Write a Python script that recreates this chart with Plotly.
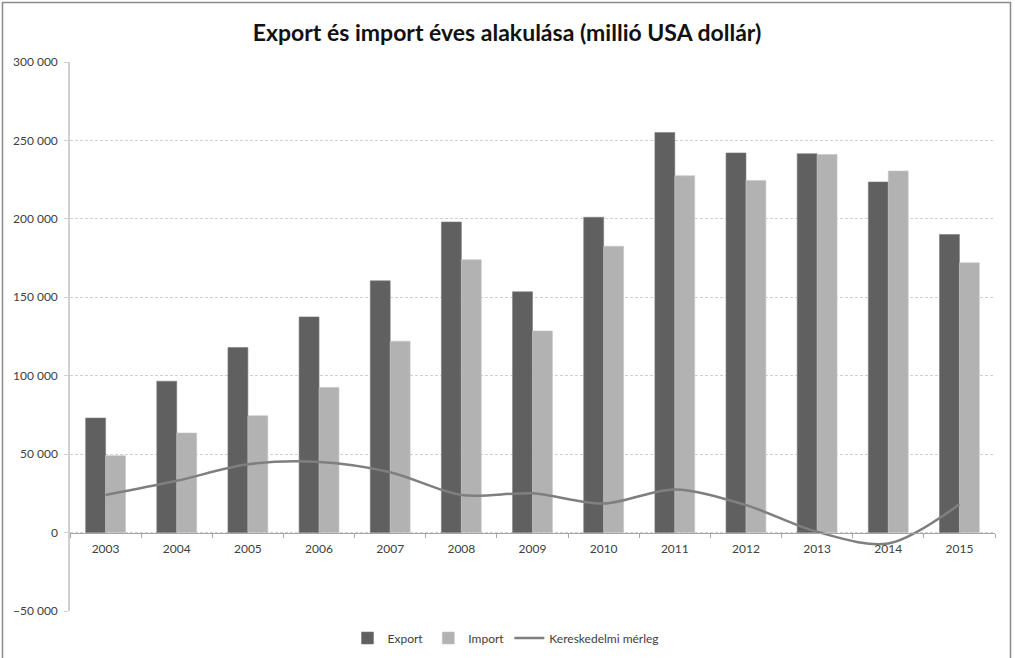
import plotly.graph_objects as go

years = ["2003", "2004", "2005", "2006", "2007", "2008", "2009", "2010", "2011", "2012", "2013", "2014", "2015"]
export_vals = [73000, 96500, 118000, 137500, 160500, 198000, 153500, 201000, 255000, 242000, 241500, 223500, 190000]
import_vals = [49000, 63500, 74500, 92500, 122000, 174000, 128500, 182500, 227500, 224500, 241000, 230500, 172000]
balance_vals = [24000, 33000, 43500, 45000, 38500, 24000, 25000, 18500, 27500, 17500, 500, -7000, 18000]

W, H = 1015, 658
ml, mr, mt, mb = 70, 20, 62, 47
pw = W - ml - mr
ph = H - mt - mb
ymin, ymax = -50000, 300000

font_fam = "Lato, 'Open Sans', sans-serif"

fig = go.Figure()
fig.add_trace(go.Bar(x=years, y=export_vals, name="Export",
                     marker=dict(color="#606060", line=dict(color="#7a7a7a", width=0.6))))
fig.add_trace(go.Bar(x=years, y=import_vals, name="Import",
                     marker=dict(color="#b2b2b2", line=dict(color="#c4c4c4", width=0.6))))
fig.add_trace(go.Scatter(x=years, y=balance_vals, name="Kereskedelmi mérleg", mode="lines",
                         line=dict(color="#7f7f7f", width=2.5, shape="spline", smoothing=0.9)))

def px_x(p):
    return (p - ml) / pw

def px_y(p):
    return (H - mb - p) / ph

fig.update_layout(
    width=W, height=H,
    margin=dict(l=ml, r=mr, t=mt, b=mb, autoexpand=False),
    paper_bgcolor="white", plot_bgcolor="white",
    barmode="group", bargap=0.44, bargroupgap=0.0,
    title=dict(text="Export és import éves alakulása (millió USA dollár)",
               x=px_x(507), xanchor="center", xref="paper", y=1 - 33 / H, yanchor="middle",
               font=dict(family=font_fam, size=23, color="#111111", weight="bold")),
    font=dict(family=font_fam, size=12, color="#404040"),
    showlegend=True,
    legend=dict(orientation="h", x=px_x(506), xanchor="center", y=px_y(638), yanchor="middle",
                font=dict(size=12, color="#404040"), traceorder="normal",
                itemwidth=30, bgcolor="rgba(0,0,0,0)"),
    xaxis=dict(type="category", anchor="free", position=(0 - ymin) / (ymax - ymin),
               showline=True, linecolor="#a6a6a6", linewidth=1,
               ticks="outside", ticklen=4, tickcolor="#a6a6a6", tickson="boundaries",
               ticklabelstandoff=5,
               showgrid=False, tickfont=dict(size=12, color="#404040"),
               range=[-0.5, len(years) - 0.5]),
    yaxis=dict(range=[ymin, ymax], dtick=50000, tickformat=",d",
               showline=True, linecolor="#d0d0d0", linewidth=1.5,
               ticks="outside", ticklen=4, tickcolor="#d0d0d0",
               ticklabelstandoff=4,
               showgrid=True, gridcolor="#d0d0d0", griddash="3px,2px", gridwidth=1,
               zeroline=False, tickfont=dict(size=12, color="#404040")),
    separators=", ",
    shapes=[dict(type="rect", xref="paper", yref="paper",
                 x0=px_x(2.5), x1=px_x(1010.5), y0=px_y(680), y1=px_y(2.5),
                 line=dict(color="#8c8c8c", width=1.5), fillcolor="rgba(0,0,0,0)", layer="above")],
)

fig.write_html("out.html", config={"displayModeBar": False},
               post_script="document.body.style.margin='0';document.body.style.overflow='hidden';")
